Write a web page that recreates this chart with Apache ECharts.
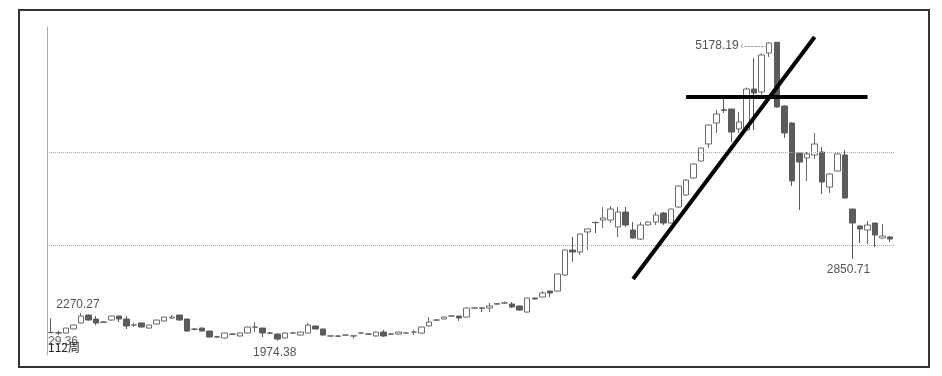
<!DOCTYPE html>
<html>
<head>
<meta charset="utf-8">
<script src="https://cdn.jsdelivr.net/npm/echarts@6/dist/echarts.min.js"></script>
<style>
  html, body { margin: 0; padding: 0; background: #fff; }
  #chart { width: 942px; height: 376px; }
</style>
</head>
<body>
<div id="chart"></div>
<script>
// weekly candles, 112 weeks
const weeks = Array.from({ length: 112 }, (_, i) => String(i + 1))

const opens = [
  2062, 2058, 2056, 2100, 2163, 2249, 2206, 2174, 2195, 2238,
  2206, 2140, 2163, 2109, 2152, 2185, 2217, 2249, 2206, 2098,
  2109, 2077, 2015, 2002, 2045, 2024, 2056, 2118, 2109, 2056,
  2045, 2002, 2055, 2034, 2056, 2131, 2099, 2023, 2024, 2033,
  2024, 2055, 2046, 2024, 2066, 2046, 2045, 2055, 2065, 2056,
  2131, 2194, 2206, 2237, 2238, 2227, 2323, 2324, 2324, 2370,
  2377, 2367, 2346, 2281, 2431, 2442, 2506, 2506, 2678, 2946,
  2925, 3140, 3242, 3268, 3268, 3193, 3354, 3161, 3064, 3215,
  3247, 3343, 3236, 3408, 3536, 3719, 3901, 4084, 4309, 4451,
  4459, 4245, 4234, 4674, 4642, 5060, 5175, 4491, 4309, 3987,
  3934, 3966, 3998, 3622, 3794, 3966, 3386, 3204, 3161, 3236,
  3075, 3086
]
const closes = [
  2060, 2056, 2109, 2142, 2238, 2195, 2163, 2172, 2238, 2206,
  2131, 2142, 2120, 2142, 2195, 2227, 2227, 2195, 2077, 2096,
  2077, 2013, 2013, 2056, 2043, 2056, 2120, 2121, 2056, 2054,
  1991, 2056, 2057, 2066, 2142, 2099, 2034, 2025, 2022, 2035,
  2026, 2057, 2044, 2066, 2024, 2044, 2066, 2057, 2067, 2120,
  2174, 2196, 2227, 2239, 2217, 2324, 2325, 2322, 2346, 2366,
  2379, 2335, 2302, 2431, 2421, 2485, 2485, 2689, 2946, 2925,
  3118, 3172, 3240, 3290, 3386, 3354, 3215, 3075, 3215, 3247,
  3322, 3236, 3386, 3633, 3697, 3869, 4041, 4288, 4406, 4446,
  4212, 4320, 4674, 4631, 5039, 5168, 4481, 4202, 3687, 3890,
  3977, 4084, 3676, 3762, 3977, 3504, 3236, 3172, 3215, 3107,
  3096, 3064
]
const lows = [
  2058, 2035, 2050, 2095, 2160, 2190, 2141, 2168, 2190, 2174,
  2099, 2120, 2115, 2105, 2148, 2180, 2206, 2190, 2072, 2085,
  2072, 2008, 2005, 1998, 2040, 2020, 2052, 2066, 2013, 2045,
  1974.38, 1998, 2045, 2030, 2052, 2095, 2030, 2015, 2015, 2025,
  1995, 2048, 2038, 2020, 2013, 2040, 2042, 2048, 2034, 2052,
  2125, 2185, 2203, 2228, 2185, 2222, 2315, 2281, 2281, 2360,
  2370, 2324, 2297, 2275, 2415, 2438, 2442, 2500, 2670, 2818,
  2893, 2946, 3129, 3182, 3236, 3086, 3193, 3070, 3054, 3210,
  3215, 3215, 3230, 3400, 3530, 3712, 3895, 4041, 4202, 4417,
  4105, 4202, 4230, 4234, 4610, 5017, 4470, 4148, 3633, 3375,
  3687, 3923, 3547, 3558, 3787, 3497, 2850.71, 3021, 3011, 2978,
  3068, 3032
]
const highs = [
  2210, 2080, 2112, 2145, 2270.27, 2255, 2238, 2178, 2240, 2242,
  2238, 2163, 2168, 2145, 2198, 2232, 2249, 2252, 2210, 2110,
  2115, 2080, 2025, 2060, 2050, 2060, 2125, 2174, 2112, 2066,
  2050, 2060, 2066, 2070, 2163, 2135, 2102, 2032, 2030, 2040,
  2032, 2062, 2052, 2070, 2088, 2050, 2070, 2062, 2088, 2124,
  2227, 2205, 2232, 2248, 2242, 2328, 2334, 2330, 2378, 2375,
  2395, 2388, 2350, 2435, 2435, 2506, 2510, 2693, 2950, 3086,
  3122, 3175, 3250, 3408, 3418, 3408, 3408, 3247, 3247, 3252,
  3354, 3354, 3390, 3640, 3705, 3875, 4045, 4292, 4449, 4577,
  4462, 4427, 4690, 5007, 5060, 5178.19, 5177, 4500, 4320, 3995,
  3998, 4202, 4052, 3770, 3998, 4020, 3390, 3208, 3258, 3240,
  3226, 3096
]

// dotted reference levels
const levels = [4000, 3000]
// hand-drawn trend lines: [week index, price]
const trendUp = [[77, 2635], [101, 5232]]
const trendFlat = [[84, 4588], [108, 4588]]

const candles = weeks.map((_, i) => [opens[i], closes[i], lows[i], highs[i]])

const chart = echarts.init(document.getElementById('chart'))

const labelStyle = { color: '#555', fontSize: 12, fontFamily: 'Liberation Sans, Arial, sans-serif' }

chart.setOption({
  animation: false,
  backgroundColor: '#fff',
  grid: { left: 47, right: 48, top: 27, bottom: 21 },
  xAxis: {
    type: 'category',
    data: weeks,
    boundaryGap: true,
    axisLine: { show: false },
    axisTick: { show: false },
    axisLabel: { show: false },
    splitLine: { show: false }
  },
  yAxis: {
    type: 'value',
    min: 1820,
    max: 5339,
    axisLine: { show: true, lineStyle: { color: '#aaa', width: 1 } },
    axisTick: { show: false },
    axisLabel: { show: false },
    splitLine: { show: false }
  },
  series: [
    {
      type: 'candlestick',
      data: candles,
      barWidth: 6,
      itemStyle: {
        color: '#fff',
        color0: '#5c5c5c',
        borderColor: '#6a6a6a',
        borderColor0: '#5c5c5c',
        borderWidth: 1
      },
      markLine: {
        silent: true,
        symbol: 'none',
        label: { show: false },
        lineStyle: { color: '#aaa', type: 'dotted', width: 1 },
        data: [
          ...levels.map(v => ({ yAxis: v })),
          [
            { coord: trendUp[0], lineStyle: { color: '#000', type: 'solid', width: 4 } },
            { coord: trendUp[1] }
          ],
          [
            { coord: trendFlat[0], lineStyle: { color: '#000', type: 'solid', width: 4 } },
            { coord: trendFlat[1] }
          ]
        ]
      },
      markPoint: {
        silent: true,
        symbol: 'circle',
        symbolSize: 0,
        data: [
          {
            coord: [95, 5178.19],
            label: {
              show: true, position: 'left', distance: 2, offset: [0, 4],
              formatter: '{a|5178.19}{b|‹-------}',
              rich: {
                a: labelStyle,
                b: { color: '#999', fontSize: 10, padding: [0, 0, 0, 2] }
              }
            }
          },
          {
            coord: [106, 2850.71],
            label: { show: true, position: 'bottom', distance: 5, offset: [-4, 0], formatter: '2850.71', ...labelStyle }
          },
          {
            coord: [30, 1974.38],
            label: { show: true, position: 'bottom', distance: 6, offset: [-3, 0], formatter: '1974.38', ...labelStyle }
          },
          {
            coord: [4, 2270.27],
            label: { show: true, position: 'top', distance: 2, offset: [-3, 0], formatter: '2270.27', ...labelStyle }
          }
        ]
      }
    }
  ],
  graphic: [
    {
      type: 'rect',
      silent: true,
      shape: { x: 19, y: 10, width: 910, height: 357 },
      style: { fill: 'none', stroke: '#333', lineWidth: 2 }
    },
    {
      type: 'text', left: 48, top: 336,
      style: { text: '29.36', fill: '#666', font: '12px Liberation Sans, Arial, sans-serif' }
    },
    {
      type: 'text', left: 48, top: 341,
      style: { text: '112周', fill: '#222', font: '12px Noto Sans CJK SC, sans-serif' }
    }
  ]
})
</script>
</body>
</html>
